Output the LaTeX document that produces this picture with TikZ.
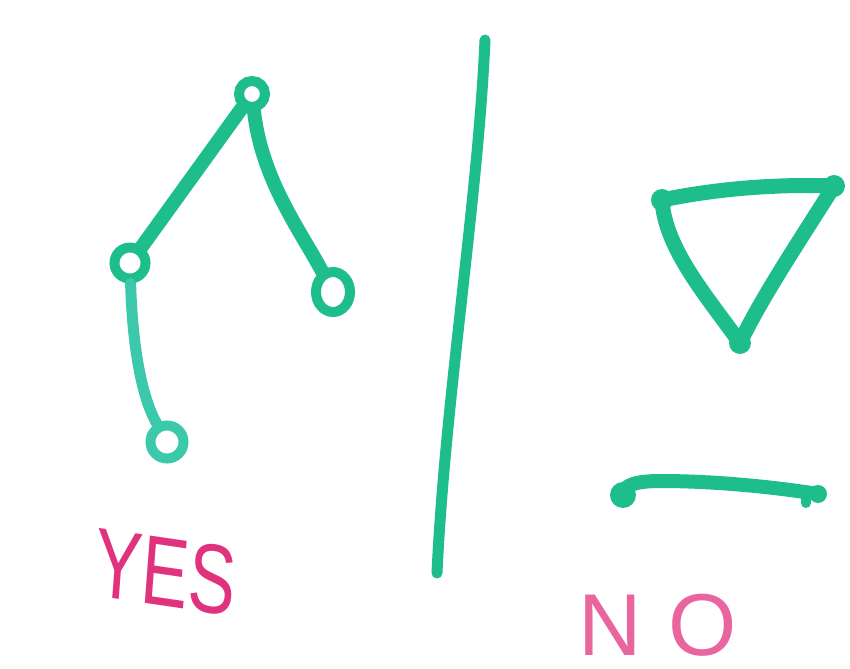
\documentclass[tikz,border=0pt]{standalone}
\usepackage{fontspec}
\setmainfont{Liberation Sans}
\usetikzlibrary{shapes.geometric}
\definecolor{pen}{RGB}{30,190,140}
\definecolor{penlight}{RGB}{60,200,170}
\definecolor{ink}{RGB}{225,50,125}
\begin{document}
\begin{tikzpicture}[x=0.1mm,y=-0.1mm,
  stroke/.style={draw=pen,line width=1.4mm,line cap=round,line join=round},
  ring/.style={circle,draw=pen,line width=1.0mm,inner sep=0pt},
  dot/.style={circle,fill=pen,inner sep=0pt,minimum size=2.2mm},
  word/.style={text=ink,font=\fontsize{28}{28}\selectfont,inner sep=0pt}]
\useasboundingbox[fill=white] (0,0) rectangle (850,669);
% tree
\node[ring,minimum size=2.6mm] (top) at (252,94) {};
\node[ring,minimum size=3.1mm] (left) at (130,263) {};
\node[ring,ellipse,minimum width=3.4mm,minimum height=4.0mm] (right) at (333,292) {};
\node[ring,draw=penlight,minimum size=3.3mm] (bottom) at (167,442) {};
\draw[stroke] (top) -- (left);
\draw[stroke] (top) .. controls (262,180) and (300,230) .. (right);
\draw[stroke,draw=penlight,line width=1.1mm] (left) .. controls (132,330) and (138,390) .. (bottom);
% divider
\coordinate (v1) at (485,40);
\coordinate (v2) at (437,573);
\draw[stroke,line width=1.1mm] (v1) .. controls (478,200) and (445,400) .. (v2);
% triangle
\node[dot] (t1) at (662,200) {};
\node[dot] (t2) at (834,186) {};
\node[dot] (t3) at (740,343) {};
\draw[stroke,line width=1.5mm] (t1.center) .. controls (720,188) and (780,184) .. (t2.center)
  .. controls (800,240) and (760,300) .. (t3.center)
  .. controls (710,300) and (665,250) .. cycle;
% line
\node[dot,minimum size=2.6mm] (l1) at (623,495) {};
\node[dot,minimum size=1.8mm] (l2) at (818,494) {};
\draw[stroke] (l1.center) .. controls (622,484) and (640,481) .. (660,481)
  .. controls (720,481) and (780,488) .. (l2.center);
\draw[stroke,line width=1.0mm] (806,492) -- (806,503);
% labels
\node[word,xscale=0.72,rotate=-6] (yes) at (166,572) {YES};
\node[word,text=ink!75,font=\fontsize{25}{25}\selectfont] (no) at (658,625) {N\hspace{0.3em}O};
\end{tikzpicture}
\end{document}
